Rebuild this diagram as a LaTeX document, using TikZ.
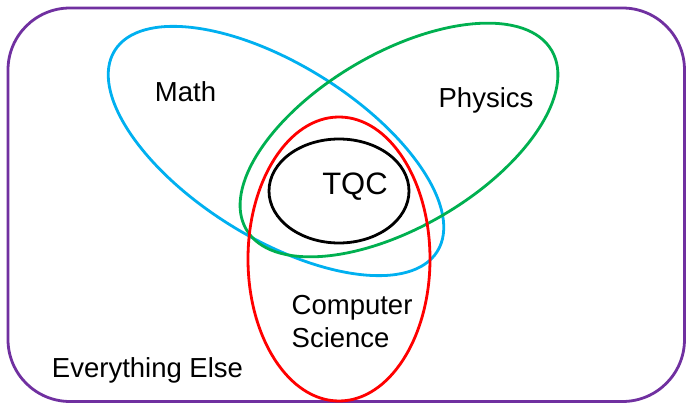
\documentclass[tikz,border=0pt]{standalone}
\usepackage{fontspec}
\setmainfont{Liberation Sans}
\definecolor{vpurple}{HTML}{7030A0}
\definecolor{vblue}{HTML}{00B0F0}
\definecolor{vgreen}{HTML}{00B050}
\definecolor{vred}{HTML}{FF0000}
\tikzset{
  setline/.style={line width=2.8pt},
  lbl/.style={inner sep=0pt, anchor=base, font=\fontsize{27.5}{33}\selectfont}
}
\begin{document}
\begin{tikzpicture}[x=1pt,y=1pt]
\useasboundingbox (0,0) rectangle (686,404);
\fill[white] (0,0) rectangle (686,404);
% outer universe
\draw[setline, vpurple, rounded corners=62pt] (8,2.5) rectangle (684.5,396);
% Math
\draw[setline, vblue, rotate around={-31.9:(276,253)}] (276,253) ellipse [x radius=190, y radius=87];
% Physics
\draw[setline, vgreen, rotate around={30.4:(399,264)}] (399,264) ellipse [x radius=177, y radius=87];
% Computer Science
\draw[setline, vred] (339,145) ellipse [x radius=91, y radius=142];
% TQC
\draw[setline, black] (339,213) ellipse [x radius=70, y radius=52];
% labels
\node[lbl] (math) at (185.5,302) {Math};
\node[lbl] (phys) at (486,296) {Physics};
\node[lbl, font=\fontsize{31}{36}\selectfont] (tqc) at (355,209) {TQC};
\node[lbl, anchor=base west, align=left] (cs) at (291.5,56) {Computer\\Science};
\node[lbl] (else) at (147.5,26) {Everything Else};
\end{tikzpicture}
\end{document}
